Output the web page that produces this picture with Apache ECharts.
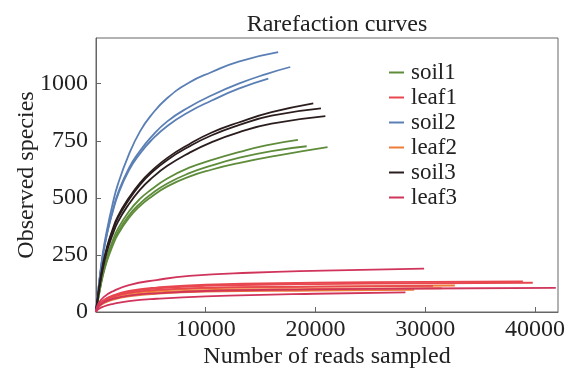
<!DOCTYPE html>
<html>
<head>
<meta charset="utf-8">
<script src="https://cdn.jsdelivr.net/npm/echarts@6/dist/echarts.min.js"></script>
<style>
  html, body { margin: 0; padding: 0; background: #fff; }
  #chart { width: 572px; height: 374px; }
</style>
</head>
<body>
<div id="chart"></div>
<script>
// legend order and colours
const groupNames = ["soil1", "leaf1", "soil2", "leaf2", "soil3", "leaf3"];
const groupColors = {
  soil1: "#5e8c3a",
  leaf1: "#e8474f",
  soil2: "#5a7fb5",
  leaf2: "#ee7d3a",
  soil3: "#2b1d1d",
  leaf3: "#d1345b",
};

// [reads sampled, observed species]
const soil1A = [[0,0],[250,75],[600,165],[1000,240],[1500,310],[2000,365],[3000,440],[4000,495],[5000,535],[6500,585],[8500,632],[10500,665],[13000,700],[15500,730],[18400,754]];
const soil1B = [[0,0],[250,72],[600,158],[1000,230],[1500,297],[2000,350],[3000,423],[4000,475],[5000,515],[6500,563],[8500,608],[10500,641],[13000,675],[16000,705],[19200,726]];
const soil1C = [[0,0],[250,70],[600,153],[1000,223],[1500,288],[2000,340],[3000,412],[4000,464],[5000,503],[6500,550],[8500,593],[10500,623],[13000,652],[16500,685],[21100,722]];

const soil2A = [[0,0],[250,115],[600,250],[1000,360],[1500,470],[2000,560],[3000,690],[4000,790],[5000,860],[6500,937],[8500,1005],[10500,1050],[13000,1097],[16600,1138]];
const soil2B = [[0,0],[250,110],[600,240],[1000,345],[1500,440],[2000,520],[3000,630],[4000,705],[5000,765],[6500,835],[8500,898],[10500,948],[13000,1000],[15500,1042],[17700,1073]];
const soil2C = [[0,0],[250,110],[600,238],[1000,340],[1500,435],[2000,513],[3000,620],[4000,693],[5000,750],[6500,815],[8500,877],[10500,925],[13000,978],[15700,1022]];

const soil3A = [[0,0],[250,95],[600,200],[1000,285],[1500,360],[2000,420],[3000,500],[4000,565],[5000,615],[6500,675],[8500,735],[10500,785],[13000,830],[16000,875],[19800,914]];
const soil3B = [[0,0],[250,92],[600,195],[1000,278],[1500,352],[2000,412],[3000,492],[4000,557],[5000,607],[6500,666],[8500,725],[10500,773],[13000,818],[16000,860],[20500,892]];
const soil3C = [[0,0],[250,88],[600,185],[1000,265],[1500,337],[2000,395],[3000,473],[4000,535],[5000,583],[6500,640],[8500,697],[10500,743],[13000,787],[16000,825],[20900,858]];

const leaf1A = [[0,0],[200,28],[700,52],[1500,72],[3000,92],[5500,107],[10000,120],[20000,128],[30000,132],[38900,134]];
const leaf1B = [[0,0],[200,26],[700,50],[1500,69],[3000,88],[5500,103],[10000,115],[20000,122],[30000,126],[39800,128]];
const leaf1C = [[0,0],[200,25],[700,48],[1500,66],[3000,84],[5500,97],[10000,106],[20000,111],[30700,114]];

const leaf2A = [[0,0],[200,24],[700,46],[1500,63],[3000,80],[5500,93],[10000,104],[20000,111],[32700,116]];
const leaf2B = [[0,0],[200,22],[700,42],[1500,58],[3000,74],[5500,86],[10000,96],[20000,101],[31500,104]];
const leaf2C = [[0,0],[200,20],[700,38],[1500,53],[3000,68],[5500,80],[10000,89],[20000,94],[29000,97]];

const leaf3A = [[0,0],[200,35],[700,65],[1500,90],[3000,118],[5500,140],[8500,158],[14000,172],[20700,181],[29900,190]];
const leaf3B = [[0,0],[200,22],[700,42],[1500,57],[3000,72],[5500,82],[10000,92],[20000,99],[30000,103],[41900,106]];
const leaf3C = [[0,0],[200,12],[700,24],[1500,35],[3000,48],[5500,58],[10000,68],[20000,80],[28200,86]];

const curves = [
  ["soil1", soil1A], ["soil1", soil1B], ["soil1", soil1C],
  ["soil2", soil2A], ["soil2", soil2B], ["soil2", soil2C],
  ["soil3", soil3A], ["soil3", soil3B], ["soil3", soil3C],
  ["leaf2", leaf2A], ["leaf2", leaf2B], ["leaf2", leaf2C],
  ["leaf1", leaf1A], ["leaf1", leaf1B], ["leaf1", leaf1C],
  ["leaf3", leaf3A], ["leaf3", leaf3B], ["leaf3", leaf3C],
];

const serif = "'Liberation Serif', 'DejaVu Serif', serif";
const axisGray = "#666";

const chart = echarts.init(document.getElementById("chart"), null, { renderer: "canvas" });

chart.setOption({
  animation: false,
  backgroundColor: "#fff",
  title: {
    text: "Rarefaction curves",
    left: 332,
    textAlign: "center",
    top: 8,
    textStyle: { fontFamily: serif, fontSize: 24, fontWeight: "normal", color: "#222" },
  },
  legend: {
    data: groupNames,
    orient: "vertical",
    left: 384,
    top: 56,
    icon: "rect",
    itemWidth: 15,
    itemHeight: 2,
    itemGap: 2,
    textStyle: { fontFamily: serif, fontSize: 23, lineHeight: 20, color: "#222", padding: [0, 0, 0, 2] },
  },
  grid: {
    left: 96,
    right: 14,
    top: 38,
    bottom: 59,
    show: true,
    borderColor: axisGray,
    borderWidth: 1,
  },
  xAxis: {
    type: "value",
    min: 0,
    max: 42100,
    interval: 10000,
    name: "Number of reads sampled",
    nameLocation: "middle",
    nameGap: 33,
    nameMoveOverlap: false,
    nameTextStyle: { fontFamily: serif, fontSize: 24, color: "#222" },
    axisLine: { lineStyle: { color: axisGray, width: 1 } },
    axisTick: { inside: true, length: 5, lineStyle: { color: axisGray } },
    splitLine: { show: false },
    axisLabel: {
      showMinLabel: false,
      showMaxLabel: false,
      margin: 6,
      fontFamily: serif,
      fontSize: 24,
      color: "#222",
      formatter: (value) => String(value),
    },
  },
  yAxis: {
    type: "value",
    min: 0,
    max: 1200,
    interval: 250,
    name: "Observed species",
    nameLocation: "middle",
    nameGap: 57,
    nameMoveOverlap: false,
    nameTextStyle: { fontFamily: serif, fontSize: 24, color: "#222" },
    axisLine: { lineStyle: { color: axisGray, width: 1 } },
    axisTick: { inside: true, length: 5, lineStyle: { color: axisGray } },
    splitLine: { show: false },
    axisLabel: {
      showMaxLabel: false,
      margin: 8,
      fontFamily: serif,
      fontSize: 24,
      color: "#222",
      formatter: (value) => String(value),
    },
  },
  series: curves.map(([name, points]) => ({
    type: "line",
    name: name,
    data: points,
    smooth: true,
    showSymbol: false,
    symbol: "none",
    color: groupColors[name],
    lineStyle: { color: groupColors[name], width: 1.8 },
  })),
});
</script>
</body>
</html>
